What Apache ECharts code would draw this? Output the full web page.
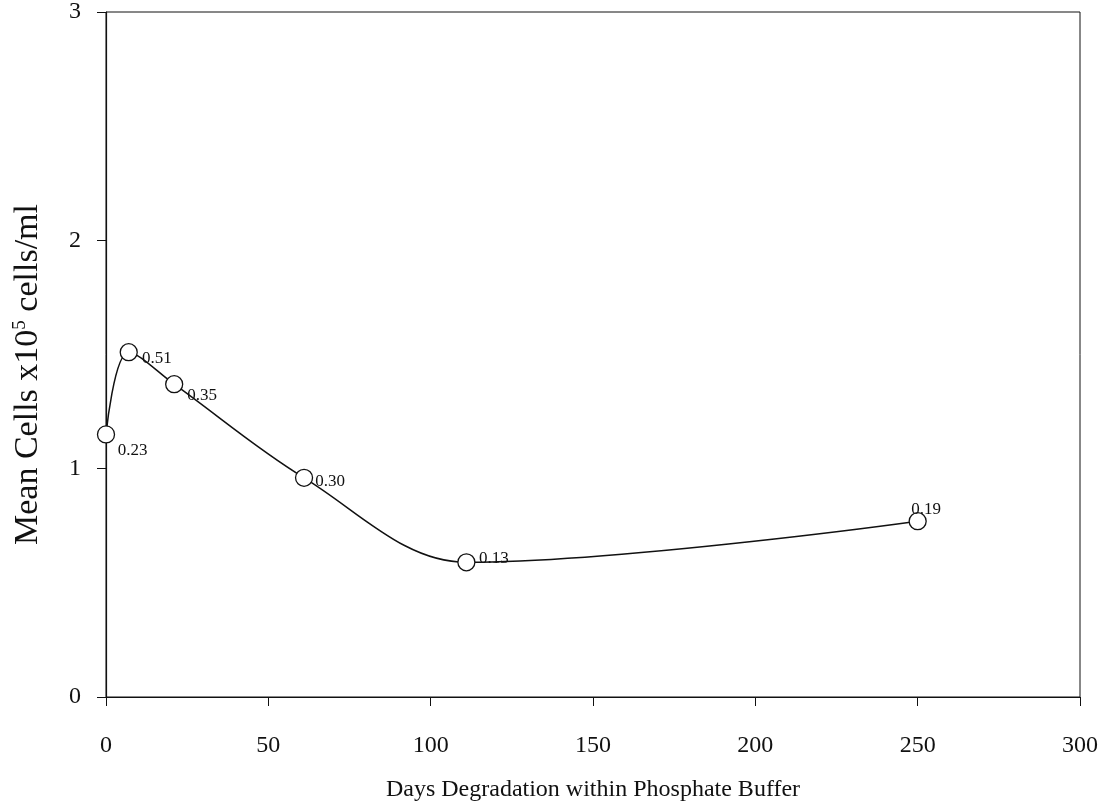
<!DOCTYPE html>
<html><head><meta charset="utf-8">
<script src="https://cdn.jsdelivr.net/npm/echarts@6/dist/echarts.min.js"></script>
<style>html,body{margin:0;padding:0;background:#fff}#c{width:1103px;height:806px}</style>
</head><body><div id="c"></div>
<script>
const days = [0, 7, 21, 61, 111, 250];
const meanCells = [1.15, 1.51, 1.37, 0.96, 0.59, 0.77];
const sdLabels = ["0.23", "0.51", "0.35", "0.30", "0.13", "0.19"];
const xTicks = [0, 50, 100, 150, 200, 250, 300];
const yTicks = [0, 1, 2, 3];

const labelOffsets = [[2.5, 16], [4, 6.5], [4, 11], [2, 4], [3.5, -4], [-15.5, -12]];
const serif = "Liberation Serif";

const chart = echarts.init(document.getElementById('c'));
chart.setOption({
  animation: false,
  backgroundColor: '#fff',
  grid: { left: 106, right: 23, top: 12, bottom: 109, containLabel: false, outerBoundsMode: 'none',
          show: true, borderColor: '#111', borderWidth: 1 },
  xAxis: {
    type: 'value', min: xTicks[0], max: xTicks[xTicks.length - 1], interval: 50,
    name: 'Days Degradation within Phosphate Buffer', nameLocation: 'middle', nameGap: 81,
    nameTextStyle: { fontFamily: serif, fontSize: 24, color: '#111' },
    axisLine: { lineStyle: { color: '#111', width: 1.2 } },
    axisTick: { show: true, length: 9, lineStyle: { color: '#111' } },
    axisLabel: { fontFamily: serif, fontSize: 24, color: '#111', margin: 37 },
    splitLine: { show: false }
  },
  yAxis: {
    type: 'value', min: yTicks[0], max: yTicks[yTicks.length - 1], interval: 1,
    name: '{t|Mean Cells x10}{s|5}{t| cells/ml}', nameLocation: 'middle', nameGap: 61, nameRotate: 90,
    nameTextStyle: { padding: [0, 40, 0, 0], rich: {
      t: { fontFamily: serif, fontSize: 34, color: '#111' },
      s: { fontFamily: serif, fontSize: 19, color: '#111', verticalAlign: 'top', padding: [0, 0, 14, 0] }
    } },
    axisLine: { lineStyle: { color: '#111', width: 1.2 } },
    axisTick: { show: true, length: 9, lineStyle: { color: '#111' } },
    axisLabel: { fontFamily: serif, fontSize: 24, color: '#111', margin: 25 },
    splitLine: { show: false }
  },
  series: [{
    type: 'line',
    smooth: 0.35,
    symbol: 'circle', symbolSize: 17,
    itemStyle: { color: '#fff', borderColor: '#111', borderWidth: 1.3 },
    lineStyle: { color: '#111', width: 1.5 },
    data: days.map((d, i) => ({
      value: [d, meanCells[i]],
      label: {
        show: true, formatter: sdLabels[i], position: 'right', distance: 0,
        offset: labelOffsets[i], fontFamily: serif, fontSize: 17, color: '#111'
      }
    })),
    z: 3
  }]
});
</script>
</body></html>
